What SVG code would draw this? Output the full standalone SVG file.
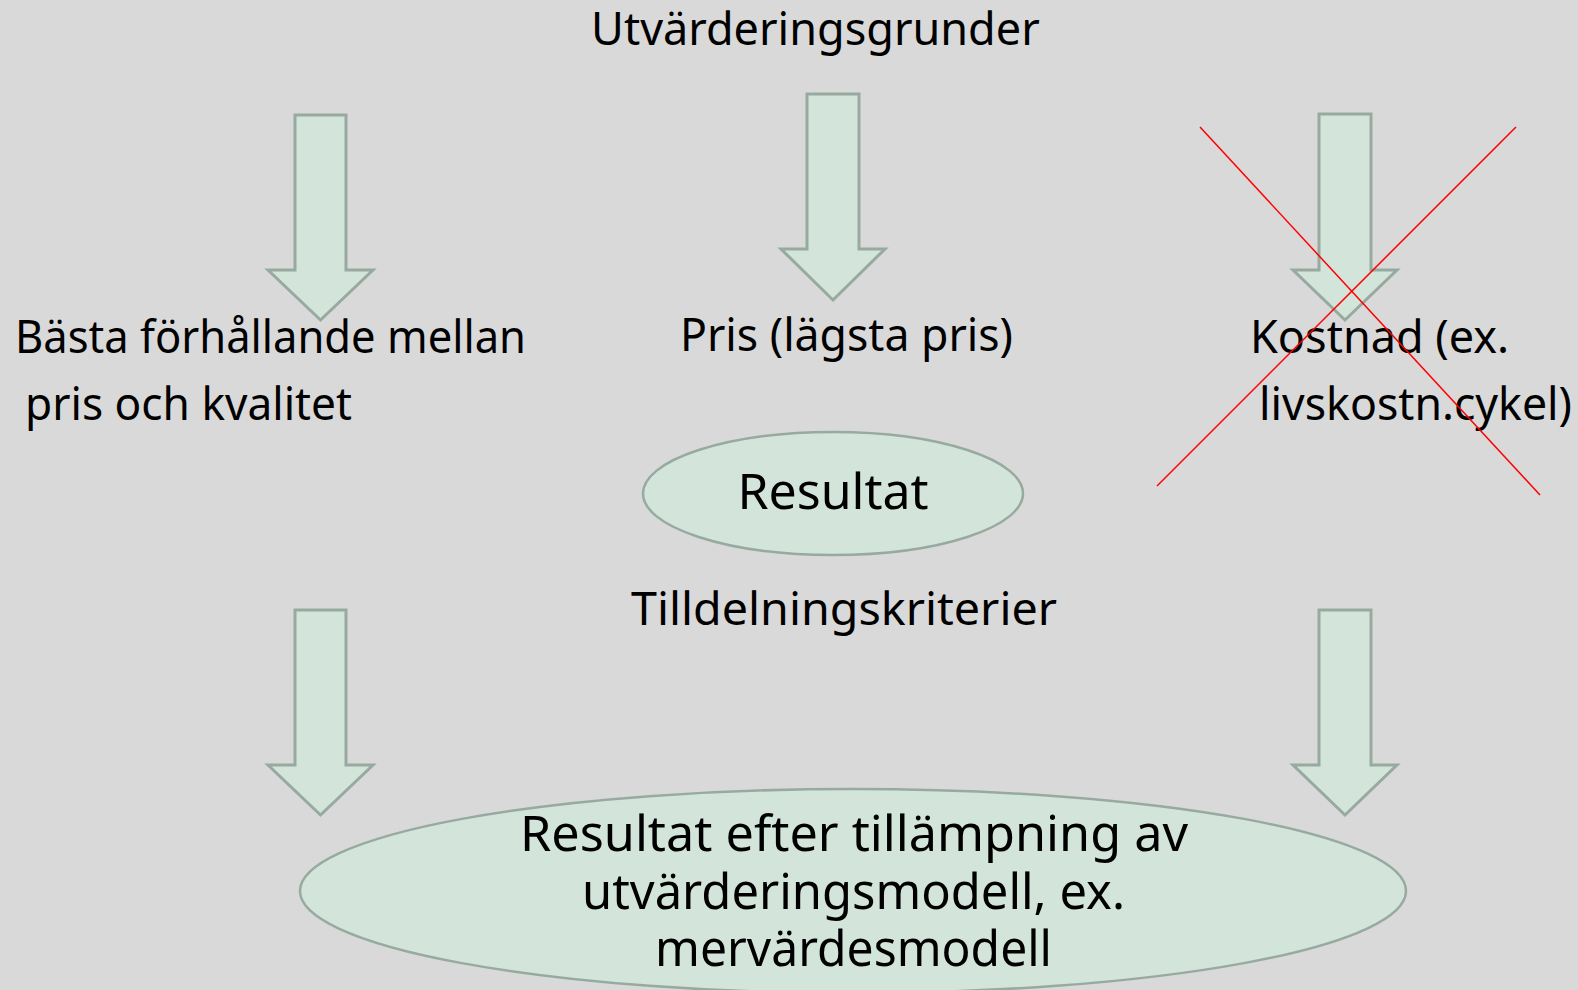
<svg xmlns="http://www.w3.org/2000/svg" width="1578" height="990" viewBox="0 0 1578 990">
  <style>
    .shape { fill: #D3E5DB; stroke: #97AAA0; stroke-width: 3; stroke-linejoin: miter; }
    .ell { fill: #D3E5DB; stroke: #97AAA0; stroke-width: 2.5; }
    .t { font-family: "Noto Sans", "Open Sans", sans-serif; font-size: 45px; fill: #000; }
    .tc { font-family: "Noto Sans", "Open Sans", sans-serif; font-size: 50px; fill: #000; text-anchor: middle; }
    .cross { stroke: #FF0000; stroke-width: 1.5; fill: none; }
  </style>
  <rect x="0" y="0" width="1578" height="990" fill="#D9D9D9"/>

  <g id="title">
    <text class="t" x="591" y="45">Utvärderingsgrunder</text>
  </g>

  <g id="connectors">
    <path class="shape" d="M295,115 L346,115 L346,270 L373,270 L320.5,320 L268,270 L295,270 Z"/>
    <path class="shape" d="M807,94 L859,94 L859,249 L885,249 L833,300 L781,249 L807,249 Z"/>
    <path class="shape" d="M1319,114 L1371,114 L1371,270 L1397,270 L1345,320 L1293,270 L1319,270 Z"/>
    <path class="shape" d="M295,610 L346,610 L346,765 L373,765 L320.5,815 L268,765 L295,765 Z"/>
    <path class="shape" d="M1319,610 L1371,610 L1371,765 L1397,765 L1345,815 L1293,765 L1319,765 Z"/>
  </g>

  <g id="node-basta">
    <text class="t" x="15" y="353" textLength="511" lengthAdjust="spacingAndGlyphs">Bästa förhållande mellan</text>
    <text class="t" x="25" y="420" textLength="327" lengthAdjust="spacingAndGlyphs">pris och kvalitet</text>
  </g>

  <g id="node-pris">
    <text class="t" x="680" y="351" textLength="333" lengthAdjust="spacingAndGlyphs">Pris (lägsta pris)</text>
  </g>

  <g id="node-kostnad">
    <text class="t" x="1250" y="353">Kostnad (ex.</text>
    <text class="t" x="1259" y="420" textLength="313" lengthAdjust="spacingAndGlyphs">livskostn.cykel)</text>
    <line class="cross" x1="1200" y1="127" x2="1540" y2="495"/>
    <line class="cross" x1="1516" y1="127" x2="1157" y2="486"/>
  </g>

  <g id="node-resultat">
    <ellipse class="ell" cx="833" cy="493.5" rx="190" ry="61.5"/>
    <text class="tc" x="833" y="509">Resultat</text>
  </g>

  <g id="node-tilldelning">
    <text class="t" x="631" y="625" textLength="426" lengthAdjust="spacingAndGlyphs">Tilldelningskriterier</text>
  </g>

  <g id="node-resultat-efter">
    <ellipse class="ell" cx="853" cy="891" rx="553" ry="102"/>
    <text class="tc" x="854" y="851" textLength="668" lengthAdjust="spacingAndGlyphs">Resultat efter tillämpning av</text>
    <text class="tc" x="853.5" y="909" textLength="543" lengthAdjust="spacingAndGlyphs">utvärderingsmodell, ex.</text>
    <text class="tc" x="853.5" y="966" textLength="397" lengthAdjust="spacingAndGlyphs">mervärdesmodell</text>
  </g>
</svg>
